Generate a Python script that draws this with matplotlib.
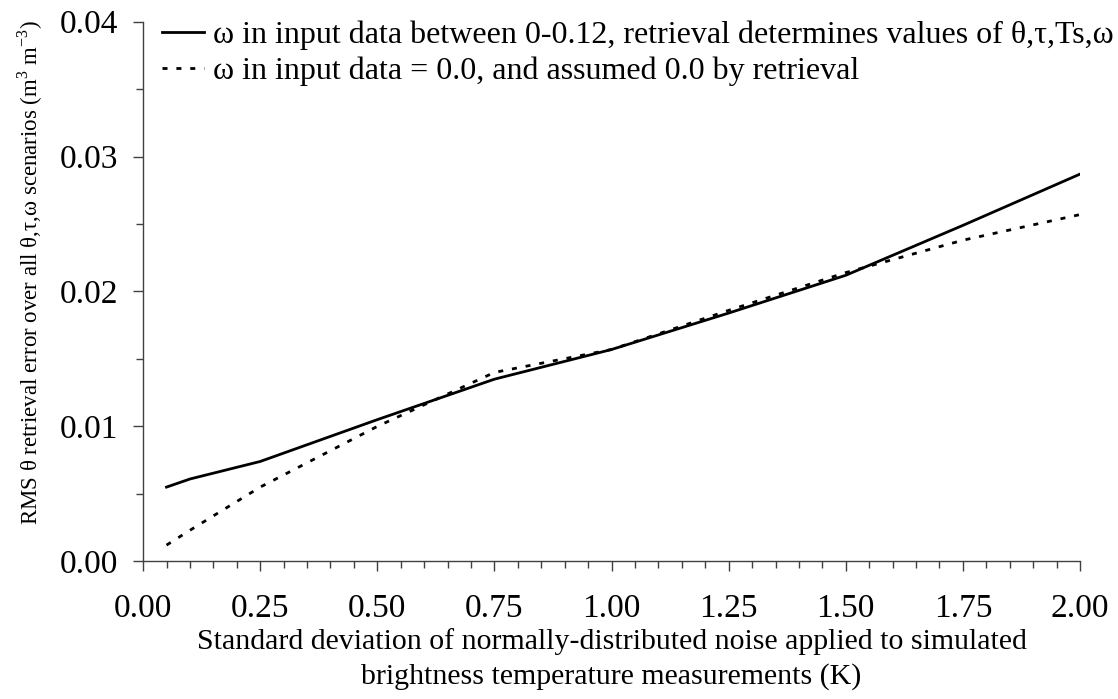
import numpy as np
import matplotlib.pyplot as plt
from matplotlib.ticker import MultipleLocator

plt.rcParams['font.family'] = ['Liberation Serif', 'DejaVu Serif']
plt.rcParams['mathtext.fontset'] = 'custom'
plt.rcParams['mathtext.rm'] = 'Liberation Serif'

# noise std (K)
noise = [0.05, 0.10, 0.25, 0.50, 0.75, 1.00, 1.25, 1.50, 1.75, 2.00]
# RMS theta error, omega retrieved
rms_omega_free = [0.0055, 0.0061, 0.0074, 0.0105, 0.0135, 0.0157, 0.0184, 0.0212, 0.0249, 0.0287]
# RMS theta error, omega fixed at 0
rms_omega_zero = [0.0012, 0.0023, 0.0055, 0.0100, 0.0140, 0.0157, 0.0186, 0.0214, 0.0238, 0.0257]

label_free = "\u03c9 in input data between 0-0.12, retrieval determines values of \u03b8,\u03c4,Ts,\u03c9"
label_zero = "\u03c9 in input data = 0.0, and assumed 0.0 by retrieval"

fig = plt.figure(figsize=(11.18, 6.99), dpi=100)
ax = fig.add_axes([0.128, 0.197, 0.838, 0.772])

ax.plot(noise, rms_omega_free, color='black', lw=2.0, label=label_free)
ax.plot(noise, rms_omega_zero, color='black', lw=2.0, linestyle=(0, (1.8, 3.2)), label=label_zero)

ax.set_xlim(0, 2.0)
ax.set_ylim(0, 0.04)
ax.xaxis.set_major_locator(MultipleLocator(0.25))
ax.xaxis.set_minor_locator(MultipleLocator(0.05))
ax.yaxis.set_major_locator(MultipleLocator(0.01))
ax.yaxis.set_minor_locator(MultipleLocator(0.005))
ax.xaxis.set_major_formatter(plt.FormatStrFormatter('%.2f'))
ax.yaxis.set_major_formatter(plt.FormatStrFormatter('%.2f'))

ax.spines['top'].set_visible(False)
ax.spines['right'].set_visible(False)
for s in ['left', 'bottom']:
    ax.spines[s].set_linewidth(1.0)
    ax.spines[s].set_color('#404040')

ax.tick_params(axis='both', which='major', direction='out', length=7, width=1.0,
               color='#404040', labelsize=24)
ax.tick_params(axis='x', which='major', pad=16)
ax.tick_params(axis='y', which='major', pad=11)
ax.tick_params(axis='both', which='minor', direction='out', length=5, width=1.0, color='#404040')

ax.set_xlabel("Standard deviation of normally-distributed noise applied to simulated\n"
              "brightness temperature measurements (K)", fontsize=21.5, linespacing=1.4, labelpad=3)
ax.set_ylabel("RMS \u03b8 retrieval error over all \u03b8,\u03c4,\u03c9 scenarios (m$^{3}$ m$^{-3}$)",
              fontsize=16.5)
ax.yaxis.set_label_coords(-0.105, 0.535)

ax.legend(loc='upper left', bbox_to_anchor=(0.145, 0.971), bbox_transform=fig.transFigure,
          frameon=False, fontsize=23, handlelength=1.3, handletextpad=0.3,
          labelspacing=0.21, borderaxespad=0, borderpad=0)

fig.savefig('out.png', dpi=100)
